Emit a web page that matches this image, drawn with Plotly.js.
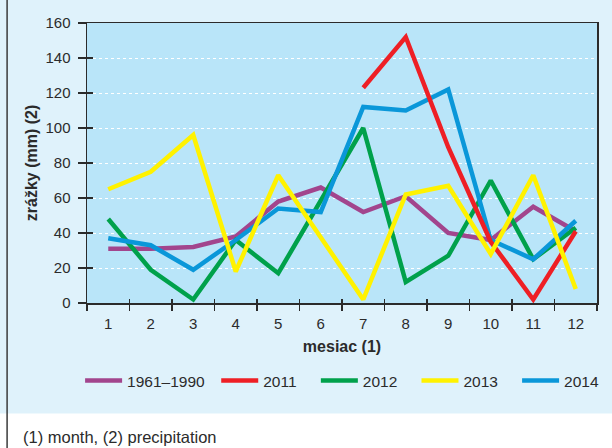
<!DOCTYPE html>
<html lang="sk">
<head>
  <meta charset="UTF-8" />
  <title>Zrážky</title>
  <script src="https://cdn.plot.ly/plotly-3.0.1.min.js"></script>
  <style>
    body { margin: 0; background: #ffffff; }
    #chart { width: 612px; height: 448px; }
  </style>
</head>
<body>
  <div id="chart"></div>
  <script>
    // mesiace a zrážky (mm)
    const months = [1, 2, 3, 4, 5, 6, 7, 8, 9, 10, 11, 12];
    const monthLabels = ['1', '2', '3', '4', '5', '6', '7', '8', '9', '10', '11', '12'];
    const normal6190 = [31, 31, 32, 38, 58, 66, 52, 61, 40, 36, 55, 41];
    const y2011 = [null, null, null, null, null, null, 123, 152, 89, 35, 2, 41];
    const y2012 = [48, 19, 2, 36, 17, 59, 100, 12, 27, 70, 25, 43];
    const y2013 = [65, 75, 96, 18, 73, 37, 2, 62, 67, 28, 73, 8];
    const y2014 = [37, 33, 19, 36, 54, 52, 112, 110, 122, 36, 25, 47];
    const yTicks = [0, 20, 40, 60, 80, 100, 120, 140, 160];

    const sans = 'Liberation Sans, Arial, sans-serif';
    const dark = '#2b2b2b';

    function serie(name, y, color, legendId) {
      return {
        x: months, y: y, name: name,
        type: 'scatter', mode: 'lines',
        line: { color: color, width: 4.5 },
        connectgaps: false,
        legend: legendId
      };
    }

    // poradie kreslenia (žltá navrchu)
    const traces = [
      serie('1961–1990', normal6190, '#a2458d', 'legend'),
      serie('2012', y2012, '#00a14b', 'legend3'),
      serie('2014', y2014, '#0a97d9', 'legend5'),
      serie('2011', y2011, '#ee1f25', 'legend2'),
      serie('2013', y2013, '#fff200', 'legend4'),
      // prázdna stopa pre vnútorné tiky os
      { x: [], y: [], xaxis: 'x2', yaxis: 'y2', showlegend: false, hoverinfo: 'skip' }
    ];

    function leg(xPx) {
      return {
        x: (xPx - 87) / 517, y: (303 - 381) / 280,
        xanchor: 'left', yanchor: 'middle', orientation: 'h',
        bgcolor: 'rgba(0,0,0,0)', borderwidth: 0, itemwidth: 37,
        font: { family: sans, size: 15.5, color: dark }
      };
    }

    const layout = {
      width: 612, height: 448,
      margin: { l: 87, r: 8, t: 23, b: 145 },
      paper_bgcolor: '#dff2fb',
      plot_bgcolor: '#b9e5f9',
      showlegend: true,
      xaxis: {
        range: [0.5, 12.5],
        tickmode: 'array', tickvals: months, ticktext: monthLabels,
        ticks: '', showgrid: false, zeroline: false,
        showline: true, linecolor: dark, linewidth: 1.5, mirror: true,
        minor: { tickmode: 'linear', tick0: 0.5, dtick: 1, ticks: 'outside', ticklen: 6, tickwidth: 1.5, tickcolor: dark, showgrid: false },
        tickfont: { family: sans, size: 15, color: dark },
        ticklabelstandoff: 6,
        title: { text: 'mesiac (1)', font: { family: sans, size: 16, color: dark, weight: 'bold' }, standoff: 10 }
      },
      yaxis: {
        range: [0, 160],
        tickmode: 'array', tickvals: yTicks,
        ticks: 'outside', ticklen: 8, tickwidth: 1.5, tickcolor: dark,
        showgrid: true, gridcolor: '#ffffff', gridwidth: 1, griddash: 'dot',
        zeroline: false,
        showline: true, linecolor: dark, linewidth: 1.5, mirror: true,
        tickfont: { family: sans, size: 15, color: dark },
        ticklabelstandoff: 4,
        title: { text: 'zrážky (mm) (2)', font: { family: sans, size: 16, color: dark, weight: 'bold' }, standoff: 4 }
      },
      xaxis2: {
        overlaying: 'x', anchor: 'y', range: [0.5, 12.5],
        tickmode: 'linear', tick0: 0.5, dtick: 1,
        ticks: 'inside', ticklen: 4, tickwidth: 1.5, tickcolor: dark,
        showticklabels: false, showgrid: false, zeroline: false, showline: false
      },
      yaxis2: {
        overlaying: 'y', anchor: 'x', range: [0, 160],
        tickmode: 'array', tickvals: yTicks,
        ticks: 'inside', ticklen: 6, tickwidth: 1.5, tickcolor: dark,
        showticklabels: false, showgrid: false, zeroline: false, showline: false
      },
      legend: leg(80),
      legend2: leg(218),
      legend3: leg(319),
      legend4: leg(421),
      legend5: leg(523),
      shapes: [
        { type: 'rect', xref: 'paper', yref: 'paper', layer: 'below',
          x0: -0.2, x1: 1.1, y0: -0.6, y1: (303 - 413.5) / 280,
          fillcolor: '#ffffff', line: { width: 0 } },
        { type: 'line', xref: 'paper', yref: 'paper',
          x0: (6 - 87) / 517, x1: (6 - 87) / 517, y0: -0.6, y1: 1.2,
          line: { color: '#3a3a3a', width: 1.5 } }
      ],
      annotations: [
        { xref: 'paper', yref: 'paper', x: (20 - 87) / 517, y: (303 - 437) / 280,
          xanchor: 'left', yanchor: 'middle', showarrow: false,
          text: '(1) month, (2) precipitation',
          font: { family: sans, size: 16.5, color: dark } }
      ]
    };

    Plotly.newPlot('chart', traces, layout, { staticPlot: true, displayModeBar: false });
  </script>
</body>
</html>
